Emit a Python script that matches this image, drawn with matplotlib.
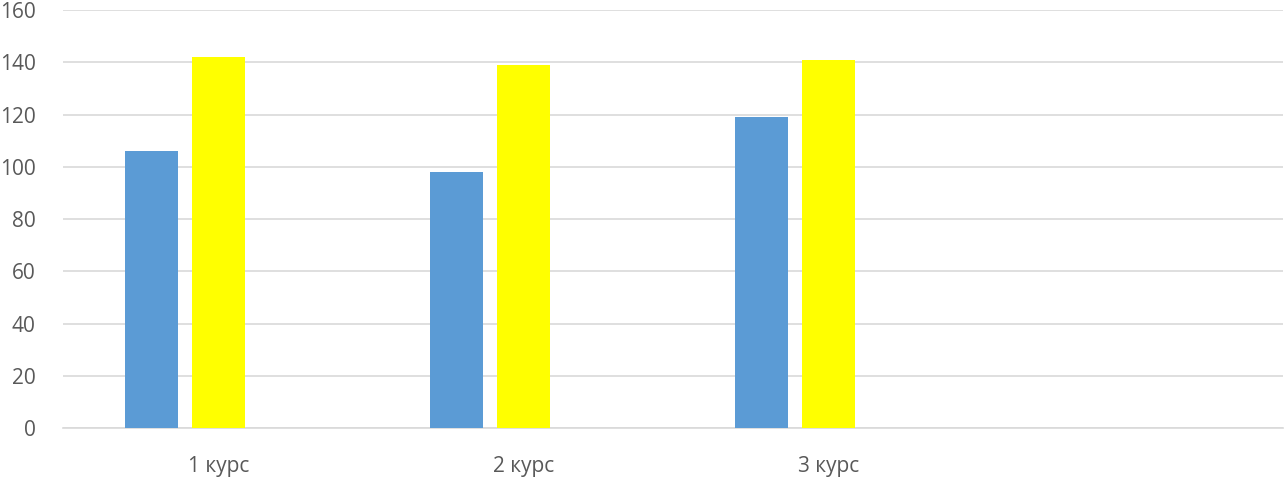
import numpy as np
import matplotlib
matplotlib.use("Agg")
import matplotlib.pyplot as plt

plt.rcParams['font.family'] = ['Open Sans', 'DejaVu Sans']

# data
categories = ['1 курс', '2 курс', '3 курс', '']
series_blue = [106, 98, 119, np.nan]
series_yellow = [142, 139, 141, np.nan]
series_third = [np.nan, np.nan, np.nan, np.nan]   # empty third series keeps the bars off-centre
y_ticks = [0, 20, 40, 60, 80, 100, 120, 140, 160]

fig = plt.figure(figsize=(12.87, 4.8), dpi=100)
ax = fig.add_axes([0.0493, 0.1083, 0.9477, 0.8707])

x = np.arange(len(categories))
width = 0.174
step = 0.222

ax.bar(x - step, series_blue, width, color='#5B9BD5', zorder=3)
ax.bar(x, series_yellow, width, color='#FFFF00', zorder=3)
ax.bar(x + step, series_third, width, color='#A5A5A5', zorder=3)

ax.set_xlim(-0.51, len(categories) - 0.51)
ax.set_ylim(0, 160)
ax.set_yticks(y_ticks)
ax.set_xticks(x)
ax.set_xticklabels(categories)

ax.grid(axis='y', color='#D9D9D9', linewidth=1.2, zorder=0)
for side in ['top', 'right', 'left']:
    ax.spines[side].set_visible(False)
ax.spines['bottom'].set_color('#D9D9D9')
ax.spines['bottom'].set_linewidth(1.2)

ax.tick_params(axis='both', length=0, labelsize=15, labelcolor='#595959')
ax.tick_params(axis='y', pad=20)
ax.tick_params(axis='x', pad=20)

fig.savefig('out.png', dpi=100)
